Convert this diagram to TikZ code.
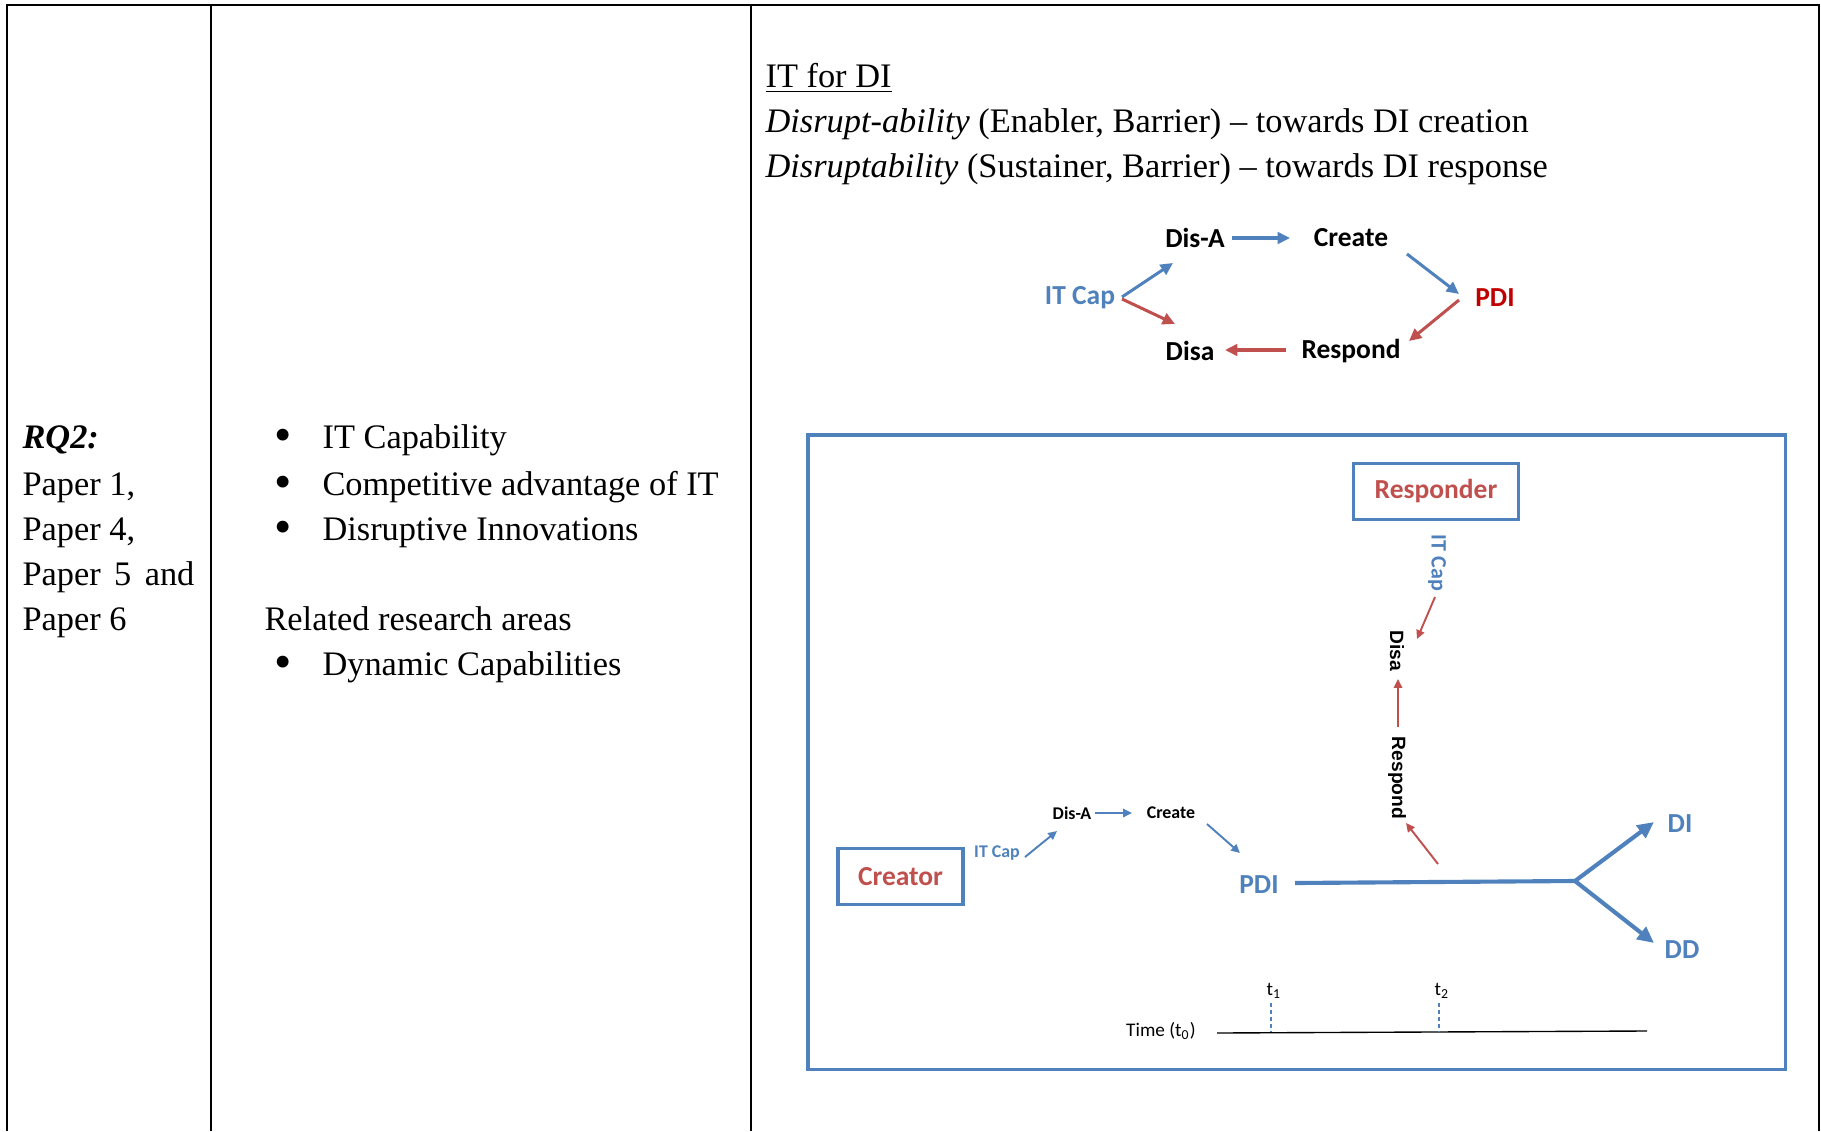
\documentclass[tikz,border=0pt]{standalone}
\usepackage{fontspec}
\setmainfont{Liberation Serif}
\newfontfamily\calibri{Carlito}
\newfontfamily\arialb{Liberation Sans}
\usetikzlibrary{positioning, calc, arrows.meta}

\definecolor{capblue}{RGB}{79,129,189}
\definecolor{capred}{RGB}{192,80,77}
\definecolor{pdired}{RGB}{192,0,0}

\tikzset{
  cell/.style={anchor=base west, inner sep=0pt, font=\fontsize{12.5}{14}\selectfont},
  lbl/.style={font=\calibri\bfseries\fontsize{10}{12}\selectfont},
  tinylbl/.style={font=\calibri\bfseries\fontsize{6.5}{8}\selectfont},
  vlbl/.style={rotate=-90, font=\arialb\bfseries\fontsize{7}{8}\selectfont},
  actor/.style={draw=capblue, line width=1.3pt, text=capred, minimum height=20.3pt,
    font=\calibri\bfseries\fontsize{10}{12}\selectfont},
  fwdarr/.style={capblue, line width=1.1pt, -{Triangle[length=4.5pt,width=4.2pt]}},
  backarr/.style={capred, line width=1.1pt, -{Triangle[length=4.5pt,width=4.2pt]}},
  fwdthin/.style={capblue, line width=0.7pt, -{Triangle[length=3.2pt,width=3pt]}},
  backthin/.style={capred, line width=0.7pt, -{Triangle[length=3.2pt,width=3pt]}},
  branch/.style={capblue, line width=1.5pt, -{Triangle[length=6pt,width=5.5pt]}}
}

\begin{document}
\begin{tikzpicture}[x=0.36364pt, y=-0.36364pt]
  \useasboundingbox (0,0) rectangle (1821,1131);

  % Table rules
  \draw[line width=0.9pt] (7,1131) -- (7,5) -- (1819,5) -- (1819,1131);
  \draw[line width=0.9pt] (211,5) -- (211,1131);
  \draw[line width=0.9pt] (751,5) -- (751,1131);

  % --- COLUMN 1: QUESTION ---
  \node[cell] (rq) at (22,448) {\textbf{\textit{RQ2:}}};
  \node[cell] (p1) at (22,495) {Paper 1,};
  \node[cell] (p4) at (22,540) {Paper 4,};
  \node[cell] (p5) at (22,585) {\makebox[62.5pt][s]{Paper 5 and}};
  \node[cell] (p6) at (22,630) {Paper 6};

  % --- COLUMN 2: AREAS ---
  \foreach \y/\t [count=\i] in {448/IT Capability, 495/Competitive advantage of IT, 540/Disruptive Innovations, 675/Dynamic Capabilities} {
    \node[cell] (dot\i) at (274,\y) {\raisebox{-1.2pt}{\fontsize{18}{18}\selectfont\textbullet}};
    \node[cell] (area\i) at (322,\y) {\t};
  }
  \node[cell] (related) at (264,630) {Related research areas};

  % --- COLUMN 3: FRAMEWORK ---
  \node[cell] (head) at (765,87) {\underline{IT for DI}};
  \node[cell] (ability) at (765,132) {\textit{Disrupt-ability} (Enabler, Barrier) -- towards DI creation};
  \node[cell] (tability) at (765,177) {\textit{Disruptability} (Sustainer, Barrier) -- towards DI response};

  % Small cycle
  \node[lbl, text=capblue] (capA) at (1080,298) {IT Cap};
  \node[lbl] (disA) at (1195,238) {Dis-A};
  \node[lbl] (createA) at (1351,238) {Create};
  \node[lbl, text=pdired] (pdiA) at (1495,298) {PDI};
  \node[lbl] (respondA) at (1351,351) {Respond};
  \node[lbl] (disaA) at (1190,351) {Disa};
  \draw[fwdarr] ($(capA)+(42,-1)$) -- ($(disA)+(-22,25)$);
  \draw[fwdarr] ($(disA)+(37,0)$) -- ($(createA)+(-61,0)$);
  \draw[fwdarr] ($(createA)+(56,16)$) -- ($(pdiA)+(-36,-4)$);
  \draw[backarr] ($(pdiA)+(-36,2)$) -- ($(respondA)+(58,-10)$);
  \draw[backarr] ($(respondA)+(-65,-1)$) -- ($(disaA)+(35,-1)$);
  \draw[backarr] ($(capA)+(42,1)$) -- ($(disaA)+(-15,-27)$);

  % Frame
  \draw[capblue, line width=1.1pt] (808,435) rectangle (1785,1069);

  % Responder side
  \node[actor, minimum width=60pt] (responder) at (1436,491.5) {Responder};
  \node[vlbl, text=capblue, font=\calibri\bfseries\fontsize{8}{9}\selectfont] (capR) at (1437,563) {IT Cap};
  \node[vlbl] (disaR) at (1397,651) {Disa};
  \node[vlbl] (respondR) at (1397,778) {Respond};
  \draw[backthin] ($(capR)+(-2,34)$) -- ($(disaR)+(20,-12)$);
  \draw[backthin] ($(respondR)+(1,-51)$) -- ($(disaR)+(1,28)$);

  % Creator side
  \node[actor, minimum width=45.6pt] (creator) at (900.5,876.5) {Creator};
  \node[tinylbl, text=capblue] (capC) at (997,853) {IT Cap};
  \node[tinylbl] (disC) at (1072,813) {Dis-A};
  \node[tinylbl] (createC) at (1171,813) {Create};
  \node[lbl, text=capblue] (pdiC) at (1259,885) {PDI};
  \draw[fwdthin] ($(capC)+(28,4)$) -- ($(disC)+(-15,18)$);
  \draw[fwdthin] ($(disC)+(23,0)$) -- ($(createC)+(-39,0)$);
  \draw[fwdthin] ($(createC)+(36,11)$) -- ($(pdiC)+(-19,-32)$);

  % PDI path and outcomes
  \node[lbl, text=capblue] (di) at (1680,824) {DI};
  \node[lbl, text=capblue] (dd) at (1682,950) {DD};
  \coordinate (fork) at (1575,881);
  \coordinate (hit) at (1438,864);
  \draw[capblue, line width=1.5pt] ($(pdiC)+(36,-2)$) -- (fork);
  \draw[branch] (fork) -- ($(di)+(-26,-2)$);
  \draw[branch] (fork) -- ($(dd)+(-28,-7)$);
  \draw[backthin] (hit) -- ($(respondR)+(9,45)$);

  % Time axis
  \node[font=\calibri\fontsize{7}{8}\selectfont] (timeL) at (1161,1031) {Time (t\textsubscript{0})};
  \coordinate (ax0) at (1217,1033);
  \coordinate (ax1) at (1647,1031);
  \draw[line width=0.5pt] (ax0) -- (ax1);
  \foreach \x/\n in {1271/1, 1439/2} {
    \node[font=\calibri\fontsize{7}{8}\selectfont] (t\n) at (\x+3,991) {t\textsubscript{\n}};
    \draw[capblue, line width=0.5pt, dash pattern=on 1.5pt off 1pt] (\x,1003) -- (\x,1032);
  }
\end{tikzpicture}
\end{document}
